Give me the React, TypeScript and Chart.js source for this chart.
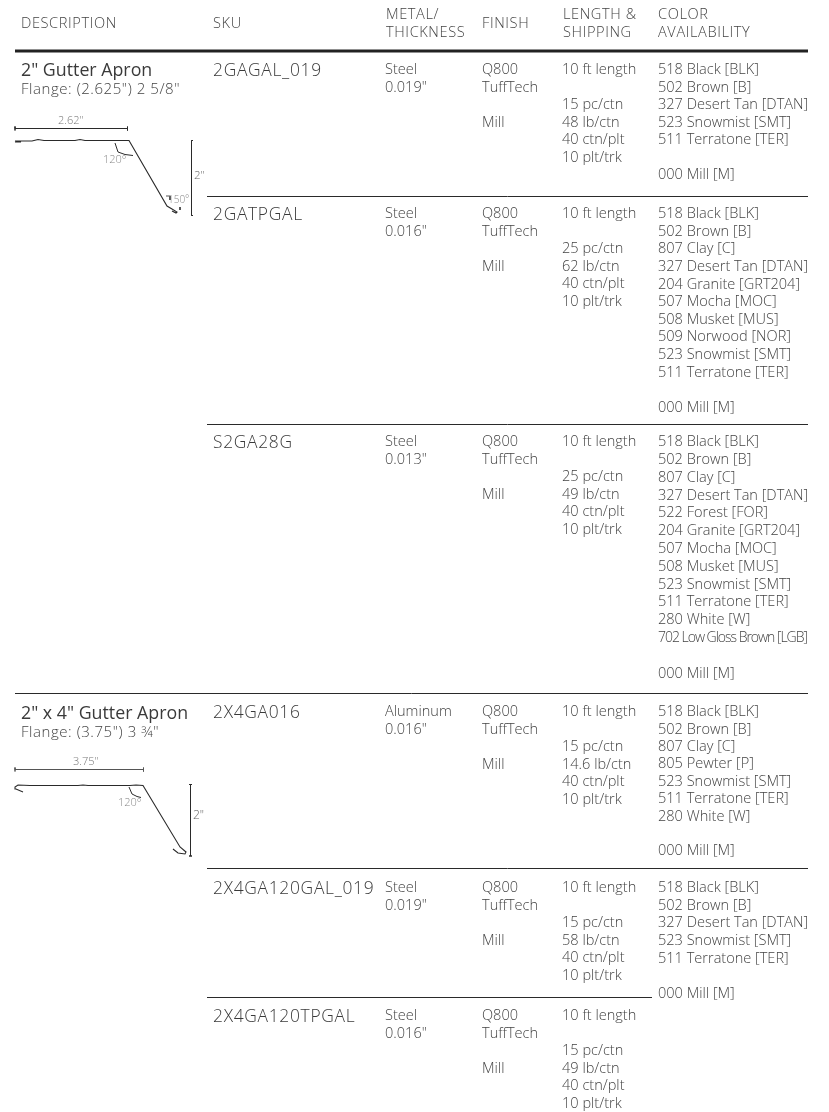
import React, { useEffect, useRef } from "react";
import { Chart, registerables } from "chart.js";
Chart.register(...registerables);

const W = 829, H = 1112;
const headers = ["DESCRIPTION", "SKU", "METAL/\nTHICKNESS", "FINISH", "LENGTH &\nSHIPPING", "COLOR\nAVAILABILITY"];
const skus = ["2GAGAL_019", "2GATPGAL", "S2GA28G", "2X4GA016", "2X4GA120GAL_019", "2X4GA120TPGAL"];
const metals = ["Steel", "Steel", "Steel", "Aluminum", "Steel", "Steel"];
const thicknesses = ['0.019"', '0.016"', '0.013"', '0.016"', '0.019"', '0.016"'];
const finishes = ["Q800", "TuffTech", "", "Mill"];
const piecesPerCarton = ["15 pc/ctn", "25 pc/ctn", "25 pc/ctn", "15 pc/ctn", "15 pc/ctn", "15 pc/ctn"];
const poundsPerCarton = ["48 lb/ctn", "62 lb/ctn", "49 lb/ctn", "14.6 lb/ctn", "58 lb/ctn", "49 lb/ctn"];
const colors1 = ["518 Black [BLK]", "502 Brown [B]", "327 Desert Tan [DTAN]", "523 Snowmist [SMT]", "511 Terratone [TER]", "", "000 Mill [M]"];
const colors2 = ["518 Black [BLK]", "502 Brown [B]", "807 Clay [C]", "327 Desert Tan [DTAN]", "204 Granite [GRT204]", "507 Mocha [MOC]", "508 Musket [MUS]", "509 Norwood [NOR]", "523 Snowmist [SMT]", "511 Terratone [TER]", "", "000 Mill [M]"];
const colors3 = ["518 Black [BLK]", "502 Brown [B]", "807 Clay [C]", "327 Desert Tan [DTAN]", "522 Forest [FOR]", "204 Granite [GRT204]", "507 Mocha [MOC]", "508 Musket [MUS]", "523 Snowmist [SMT]", "511 Terratone [TER]", "280 White [W]", "702 Low Gloss Brown [LGB]", "", "000 Mill [M]"];
const colors4 = ["518 Black [BLK]", "502 Brown [B]", "807 Clay [C]", "805 Pewter [P]", "523 Snowmist [SMT]", "511 Terratone [TER]", "280 White [W]", "", "000 Mill [M]"];
const colors5 = ["518 Black [BLK]", "502 Brown [B]", "327 Desert Tan [DTAN]", "523 Snowmist [SMT]", "511 Terratone [TER]", "", "000 Mill [M]"];
const colorLists = [colors1, colors2, colors3, colors4, colors5];
const groupTitles = ['2" Gutter Apron', '2" x 4" Gutter Apron'];
const groupSubs = ['Flange: (2.625") 2 5/8"', 'Flange: (3.75") 3 ¾"'];
const dim1 = ['2.62"', '120°', '150°', '2"'];
const dim2 = ['3.75"', '120°', '2"'];

const profile1 = [[15,142],[21,142],[15,141],[32,141],[38,139.5],[44,140.5],[75,140.5],[80,139.5],[85,140.5],[129,140.5],[167,206],[172,209],[177,212],[176,213],[172,211]];
const arc1a = [[115,143],[118,152],[125,154.5],[133,155.5]];
const arc1b = [[166,196],[170,196],[170,200]];
const tick1 = [[180,207],[180,210]];
const span1 = [[15,126.5],[15,130.5],[15,128.5],[127.5,128.5],[127.5,126.5],[127.5,130.5]];
const height1 = [[193,140.5],[191.5,140.5],[191.5,215.5],[193,215.5]];
const profile2 = [[23,792],[16,789],[15,787],[18,785],[30,785.5],[78,785.5],[83,785],[88,785.5],[130,785.5],[136,785],[143,785.5],[180,847],[186,852],[185,854],[178,853],[173,849]];
const arc2a = [[129,787],[132,794],[137,796.5],[141,797.5]];
const span2 = [[15,767.5],[15,771.5],[15,769.5],[143.5,769.5],[143.5,767.5],[143.5,771.5]];
const height2 = [[192,784.5],[190.5,784.5],[190.5,856],[192,856],[189,856],[190.5,856],[190.5,784.5],[189,784.5]];
const ruleHeader = [[15,51],[808,51]];
const rule1 = [[207,196.5],[808,196.5]];
const rule2 = [[207,424.5],[808,424.5]];
const rule3 = [[15,693.5],[808,693.5]];
const rule4 = [[207,868.5],[808,868.5]];
const rule5 = [[207,997.5],[652,997.5]];

const rowTops = [70, 214, 442, 712, 888, 1016];
const rowPitch = [17.5, 17.6, 17.8, 17.4, 17.6];
const INK = "#444444";
const FAMILY = '"Open Sans"';
const BODY = 14.55;

const mk = (pts: number[][], w = 1, c = "#2a2a2a") => ({
  data: pts.map(([x, y]) => ({ x, y })),
  borderColor: c, borderWidth: w, pointRadius: 0, tension: 0, fill: false,
});

const textPlugin = {
  id: "tableText",
  afterDatasetsDraw(chart: any) {
    const { ctx, scales } = chart;
    const put = (t: string, x: number, y: number, size: number, color = INK, weight = 300, spacing = "0px") => {
      if (!t) return;
      ctx.font = `${weight} ${size}px ${FAMILY}`;
      ctx.fillStyle = color;
      ctx.textBaseline = "middle";
      ctx.textAlign = "left";
      (ctx as any).letterSpacing = spacing;
      ctx.fillText(t, scales.x.getPixelForValue(x), scales.y.getPixelForValue(y));
    };
    ctx.save();
    const headX = [21, 213, 386, 482, 563, 658];
    headers.forEach((h, i) => {
      const parts = h.split("\n");
      parts.forEach((p, j) => put(p, headX[i], parts.length === 1 ? 24 : 15 + j * 18, 14.6, INK, 300, "0.6px"));
    });
    put(groupTitles[0], 21, 71, 17.8, "#3a3a3a", 400);
    put(groupSubs[0], 21, 89.5, 15, INK, 300, "0.55px");
    put(groupTitles[1], 21, 714, 17.8, "#3a3a3a", 400);
    put(groupSubs[1], 21, 732.5, 15, INK, 300, "0.55px");
    skus.forEach((s, i) => {
      const y = rowTops[i];
      put(s, 213, y + 1.5, 17.4, "#3a3a3a", 300, "0.7px");
      put(metals[i], 385, y, BODY);
      put(thicknesses[i], 385, y + 17.5, BODY);
      finishes.forEach((f, j) => put(f, 482, y + j * 17.7, BODY));
      put("10 ft length", 562, y, BODY);
      put(piecesPerCarton[i], 562, y + 35, BODY);
      put(poundsPerCarton[i], 562, y + 52.6, BODY);
      put("40 ctn/plt", 562, y + 70, BODY);
      put("10 plt/trk", 562, y + 87.6, BODY);
      const list = colorLists[i];
      if (list) list.forEach((c, j) => {
        const tight = c.startsWith("702");
        put(c, 658, y + j * rowPitch[i], tight ? 14 : BODY, INK, 300, tight ? "-1.02px" : "0px");
      });
    });
    put(dim1[0], 58, 121, 11, "#777");
    put(dim1[1], 103, 159.5, 11, "#888");
    put(dim1[2], 168, 200.5, 10, "#888");
    put(dim1[3], 194, 176, 11.5, "#666");
    put(dim2[0], 73, 761.5, 11, "#777");
    put(dim2[1], 118, 802.5, 11, "#888");
    put(dim2[2], 193, 816, 12, "#666");
    ctx.restore();
  },
};

export default function App() {
  const ref = useRef<HTMLCanvasElement>(null);
  useEffect(() => {
    const chart = new Chart(ref.current!, {
      type: "line",
      data: {
        datasets: [
          mk(ruleHeader, 3, "#222"), mk(rule1), mk(rule2), mk(rule3), mk(rule4), mk(rule5),
          mk(profile1, 1.1), mk(arc1a), mk(arc1b, 0.8), mk(tick1, 0.8), mk(span1), mk(height1),
          mk(profile2, 1.1), mk(arc2a), mk(span2, 1, "#555"), mk(height2),
        ] as any,
      },
      options: {
        animation: false, responsive: false, parsing: false as any,
        layout: { padding: 0 },
        plugins: { legend: { display: false }, tooltip: { enabled: false } },
        scales: {
          x: { type: "linear", min: 0, max: W, display: false },
          y: { type: "linear", min: 0, max: H, reverse: true, display: false },
        },
      },
      plugins: [textPlugin],
    });
    return () => chart.destroy();
  }, []);
  return <canvas ref={ref} width={W} height={H} style={{ position: "absolute", left: 0, top: 0, display: "block" }} />;
}
